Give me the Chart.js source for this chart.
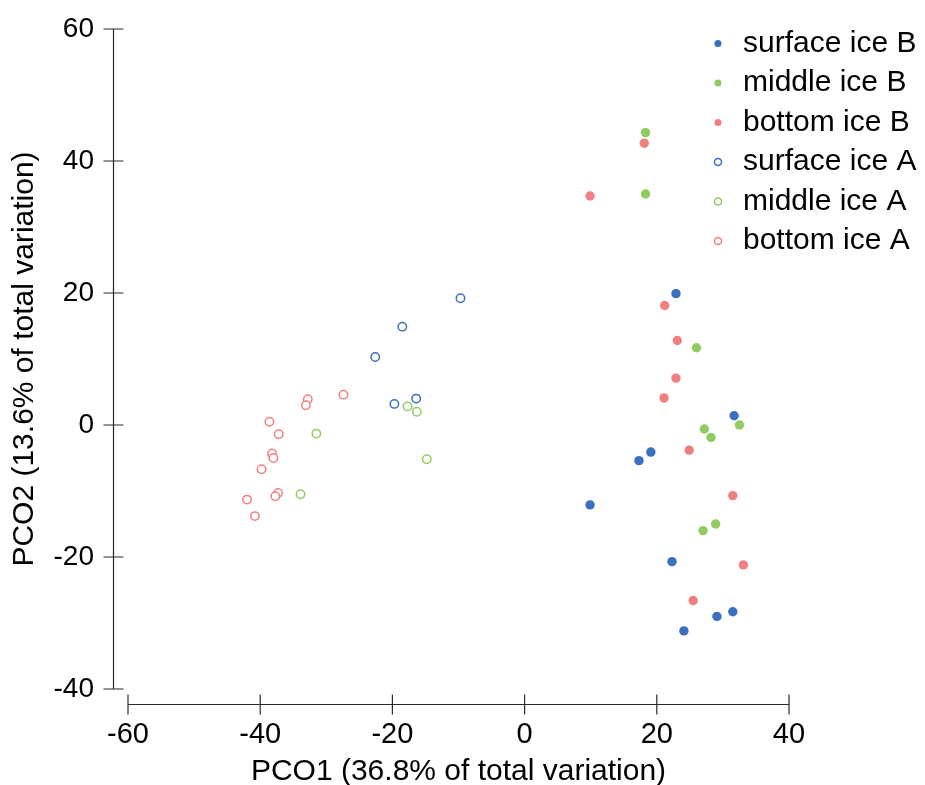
<!DOCTYPE html>
<html lang="en">
<head>
    <meta charset="UTF-8">
    <title>PCO ice samples</title>
    <style>
        body { margin: 0; background: #fff; }
    </style>
</head>
<body>
    <canvas id="pcoChart" width="925" height="785"></canvas>
    <script src="https://cdn.jsdelivr.net/npm/chart.js"></script>
    <script>
// values (PCO1, PCO2)
const surfaceB_x = [22.9, 31.7, 19.1, 17.3, 9.9, 22.3, 31.5, 29.1, 24.1];
const surfaceB_y = [19.9, 1.4, -4.1, -5.4, -12.1, -20.7, -28.3, -29.0, -31.2];
const middleB_x = [18.3, 18.3, 26.0, 32.5, 27.2, 28.2, 28.9, 27.0];
const middleB_y = [44.3, 35.0, 11.7, 0.0, -0.6, -1.9, -15.0, -16.0];
const bottomB_x = [18.1, 9.9, 21.2, 23.1, 22.9, 21.1, 24.9, 31.5, 33.1, 25.5];
const bottomB_y = [42.7, 34.7, 18.1, 12.8, 7.1, 4.1, -3.8, -10.7, -21.2, -26.6];
const surfaceA_x = [-9.7, -18.5, -22.6, -16.4, -19.7];
const surfaceA_y = [19.2, 14.9, 10.3, 4.0, 3.2];
const middleA_x = [-17.7, -16.3, -31.5, -14.8, -33.9];
const middleA_y = [2.8, 2.0, -1.3, -5.2, -10.5];
const bottomA_x = [-27.4, -32.8, -33.1, -38.6, -37.2, -38.2, -38.0, -39.8, -37.3, -37.7, -42.0, -40.8];
const bottomA_y = [4.6, 3.9, 3.0, 0.5, -1.4, -4.3, -5.0, -6.7, -10.3, -10.8, -11.3, -13.8];

const xTicks = [-60, -40, -20, 0, 20, 40];
const yTicks = [-40, -20, 0, 20, 40, 60];

const blue = '#3a70bf';
const green = '#90cc60';
const red = '#f08080';

function pts(xs, ys) {
    return xs.map((v, i) => ({ x: v, y: ys[i] }));
}

function filled(label, xs, ys, color) {
    return {
        label: label,
        data: pts(xs, ys),
        backgroundColor: color,
        borderColor: color,
        borderWidth: 0,
        pointRadius: 4.7,
        pointStyle: 'circle'
    };
}

function hollow(label, xs, ys, color) {
    return {
        label: label,
        data: pts(xs, ys),
        backgroundColor: '#ffffff',
        borderColor: color,
        borderWidth: 1.5,
        pointRadius: 4.2,
        pointStyle: 'circle'
    };
}

// separate axis lines, set off from the plot area
const axisLines = {
    id: 'axisLines',
    afterLayout(chart) {
        chart.legend.left = 698.5;
        chart.legend.right = 925;
        chart.legend.width = 925 - 698.5;
        chart.legend.top = 19;
    },
    afterDraw(chart) {
        const ctx = chart.ctx;
        const x = chart.scales.x;
        const y = chart.scales.y;
        const ax = x.left - 14.5;
        const ay = y.bottom + 15.5;
        ctx.save();
        ctx.strokeStyle = '#2a2a2a';
        ctx.lineWidth = 1.2;
        ctx.beginPath();
        ctx.moveTo(ax, y.getPixelForValue(y.min));
        ctx.lineTo(ax, y.getPixelForValue(y.max));
        y.ticks.forEach(t => {
            const py = y.getPixelForValue(t.value);
            ctx.moveTo(ax - 10, py);
            ctx.lineTo(ax + 10, py);
        });
        ctx.moveTo(x.getPixelForValue(x.min), ay);
        ctx.lineTo(x.getPixelForValue(x.max), ay);
        x.ticks.forEach(t => {
            const px = x.getPixelForValue(t.value);
            ctx.moveTo(px, ay - 10);
            ctx.lineTo(px, ay + 10);
        });
        ctx.stroke();
        ctx.restore();
    }
};

const ctx = document.getElementById('pcoChart').getContext('2d');
const pcoChart = new Chart(ctx, {
    type: 'scatter',
    data: {
        datasets: [
            filled('surface ice B', surfaceB_x, surfaceB_y, blue),
            filled('middle ice B', middleB_x, middleB_y, green),
            filled('bottom ice B', bottomB_x, bottomB_y, red),
            hollow('surface ice A', surfaceA_x, surfaceA_y, blue),
            hollow('middle ice A', middleA_x, middleA_y, green),
            hollow('bottom ice A', bottomA_x, bottomA_y, red)
        ]
    },
    plugins: [axisLines],
    options: {
        responsive: false,
        animation: false,
        events: [],
        layout: {
            padding: { top: 29, right: 136, bottom: 0, left: 0 }
        },
        plugins: {
            tooltip: { enabled: false },
            legend: {
                position: 'chartArea',
                align: 'start',
                labels: {
                    usePointStyle: true,
                    boxWidth: 20,
                    boxHeight: 5,
                    padding: 9.5,
                    color: '#000',
                    font: { family: 'Liberation Sans, Arial, sans-serif', size: 30 }
                }
            }
        },
        scales: {
            x: {
                type: 'linear',
                min: -60,
                max: 40,
                afterBuildTicks: s => { s.ticks = xTicks.map(v => ({ value: v })); },
                afterFit: s => { s.height = 96; s.paddingLeft = 0; s.paddingRight = 0; },
                grid: { display: false, drawTicks: false },
                border: { display: false },
                ticks: {
                    padding: 29,
                    color: '#000',
                    maxRotation: 0,
                    font: { family: 'Liberation Sans, Arial, sans-serif', size: 29 }
                },
                title: {
                    display: true,
                    text: 'PCO1 (36.8% of total variation)',
                    color: '#000',
                    padding: 0,
                    font: { family: 'Liberation Sans, Arial, sans-serif', size: 30, lineHeight: 0.9 }
                }
            },
            y: {
                type: 'linear',
                min: -40,
                max: 60,
                afterBuildTicks: s => { s.ticks = yTicks.map(v => ({ value: v })); },
                afterFit: s => { s.width = 128; s.paddingTop = 0; s.paddingBottom = 0; },
                grid: { display: false, drawTicks: false },
                border: { display: false },
                ticks: {
                    padding: 34,
                    color: '#000',
                    font: { family: 'Liberation Sans, Arial, sans-serif', size: 28 }
                },
                title: {
                    display: true,
                    text: 'PCO2 (13.6% of total variation)',
                    color: '#000',
                    padding: { top: 7, bottom: 0 },
                    font: { family: 'Liberation Sans, Arial, sans-serif', size: 30 }
                }
            }
        }
    }
});
    </script>
</body>
</html>
